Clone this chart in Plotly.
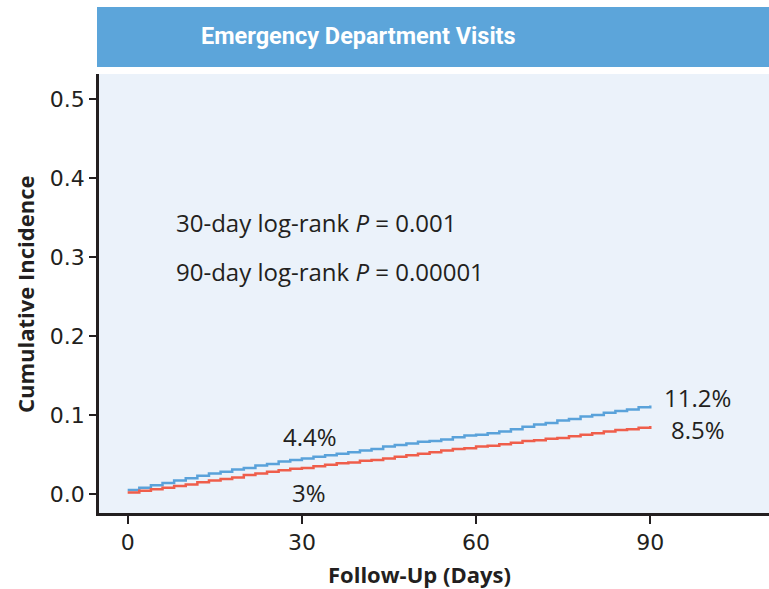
import plotly.graph_objects as go

# ---- data ----
days = [0, 2, 4, 6, 8, 10, 12, 14, 16, 18, 20, 22, 24, 26, 28, 30, 32, 34, 36, 38, 40,
        42, 44, 46, 48, 50, 52, 54, 56, 58, 60, 62, 64, 66, 68, 70, 72, 74, 76, 78, 80,
        82, 84, 86, 88, 90]
blue_inc = [0.005, 0.008, 0.011, 0.014, 0.017, 0.020, 0.023, 0.026, 0.028, 0.031, 0.033,
            0.036, 0.038, 0.041, 0.043, 0.045, 0.047, 0.049, 0.051, 0.053, 0.055,
            0.057, 0.060, 0.062, 0.064, 0.066, 0.067, 0.069, 0.072, 0.074, 0.075,
            0.077, 0.079, 0.082, 0.085, 0.088, 0.090, 0.093, 0.095, 0.098, 0.100,
            0.103, 0.105, 0.107, 0.110, 0.112]
red_inc = [0.002, 0.004, 0.006, 0.008, 0.010, 0.012, 0.015, 0.017, 0.019, 0.021, 0.024,
           0.026, 0.028, 0.030, 0.032, 0.033, 0.035, 0.037, 0.039, 0.040, 0.042,
           0.043, 0.045, 0.047, 0.049, 0.051, 0.053, 0.055, 0.057, 0.058, 0.060,
           0.061, 0.063, 0.065, 0.067, 0.068, 0.070, 0.071, 0.073, 0.075, 0.077,
           0.079, 0.081, 0.082, 0.084, 0.086]
x_ticks = [0, 30, 60, 90]
y_ticks = [0.0, 0.1, 0.2, 0.3, 0.4, 0.5]
y_ticktext = ["0.0", "0.1", "0.2", "0.3", "0.4", "0.5"]
end_labels = [(31.4, 0.0722, "4.4%"), (31.2, 0.0025, "3%"),
              (98.2, 0.1217, "11.2%"), (98.2, 0.0811, "8.5%")]
pvalue_lines = [(8.15, 0.3435, "30-day log-rank <i>P</i> = 0.001"),
                (8.15, 0.2814, "90-day log-rank <i>P</i> = 0.00001")]
title_text = "Emergency Department Visits"

BLUE = "#5AA2DA"
RED = "#EF5E4B"
INK = "#231F20"
FONT = "Open Sans, Noto Sans, DejaVu Sans, sans-serif"
TICKFONT = "DejaVu Sans, Open Sans, sans-serif"

W, H = 769, 589
ML, MR, MT, MB = 99, 0, 74, 76
PW, PH = W - ML - MR, H - MT - MB

fig = go.Figure()
fig.add_trace(go.Scatter(x=days, y=blue_inc, mode="lines", line=dict(color=BLUE, width=2.5, shape="hv"),
                         showlegend=False, hoverinfo="skip"))
fig.add_trace(go.Scatter(x=days, y=red_inc, mode="lines", line=dict(color=RED, width=2.5, shape="hv"),
                         showlegend=False, hoverinfo="skip"))

annotations = []
for x, y, t in end_labels:
    annotations.append(dict(x=x, y=y, xref="x", yref="y", text=t, showarrow=False,
                            xanchor="center", yanchor="middle",
                            font=dict(family=FONT, size=24, color=INK)))
for x, y, t in pvalue_lines:
    annotations.append(dict(x=x, y=y, xref="x", yref="y", text=t, showarrow=False,
                            xanchor="left", yanchor="middle", borderpad=0,
                            font=dict(family=FONT, size=24, color=INK)))

# title in the bar
annotations.append(dict(x=(358 - ML) / PW, y=(H - MB - 36) / PH, xref="paper", yref="paper",
                        text="<b>" + title_text + "</b>", showarrow=False,
                        xanchor="center", yanchor="middle",
                        font=dict(family="Liberation Sans Narrow, Roboto, Open Sans, sans-serif",
                                  size=23.5, color="white")))
# axis titles
annotations.append(dict(x=(419 - ML) / PW, y=-(574 - (H - MB)) / PH, xref="paper", yref="paper",
                        text="<b>Follow-Up (Days)</b>", showarrow=False,
                        xanchor="center", yanchor="middle", borderpad=0,
                        font=dict(family=FONT, size=22, color=INK)))
annotations.append(dict(x=-(ML - 25) / PW, y=((H - MB) - 294) / PH, xref="paper", yref="paper",
                        text="<b>Cumulative Incidence</b>", showarrow=False, textangle=-90,
                        xanchor="center", yanchor="middle",
                        font=dict(family=FONT, size=22, color=INK)))

fig.update_layout(
    width=W, height=H,
    margin=dict(l=ML, r=MR, t=MT, b=MB, pad=0),
    paper_bgcolor="white",
    plot_bgcolor="#EBF2FA",
    annotations=annotations,
    shapes=[dict(type="rect", xref="paper", yref="paper",
                 x0=(97 - ML) / PW, x1=1.0,
                 y0=((H - MB) - 67) / PH, y1=((H - MB) - 7) / PH,
                 fillcolor="#5CA5DA", line=dict(width=0), layer="above")],
    xaxis=dict(range=[-4.94, 110.45], tickvals=x_ticks, ticks="outside", ticklen=8, tickwidth=2,
               tickcolor=INK, showline=True, linewidth=2.5, linecolor=INK, showgrid=False,
               zeroline=False, tickfont=dict(family=TICKFONT, size=22, color=INK), fixedrange=True),
    yaxis=dict(range=[-0.0241, 0.532], tickvals=y_ticks, ticktext=y_ticktext, ticks="outside",
               ticklen=7, tickwidth=2, tickcolor=INK, showline=True, linewidth=2.5, linecolor=INK,
               showgrid=False, zeroline=False, tickfont=dict(family=TICKFONT, size=22, color=INK),
               fixedrange=True),
)

fig.write_html("out.html")
